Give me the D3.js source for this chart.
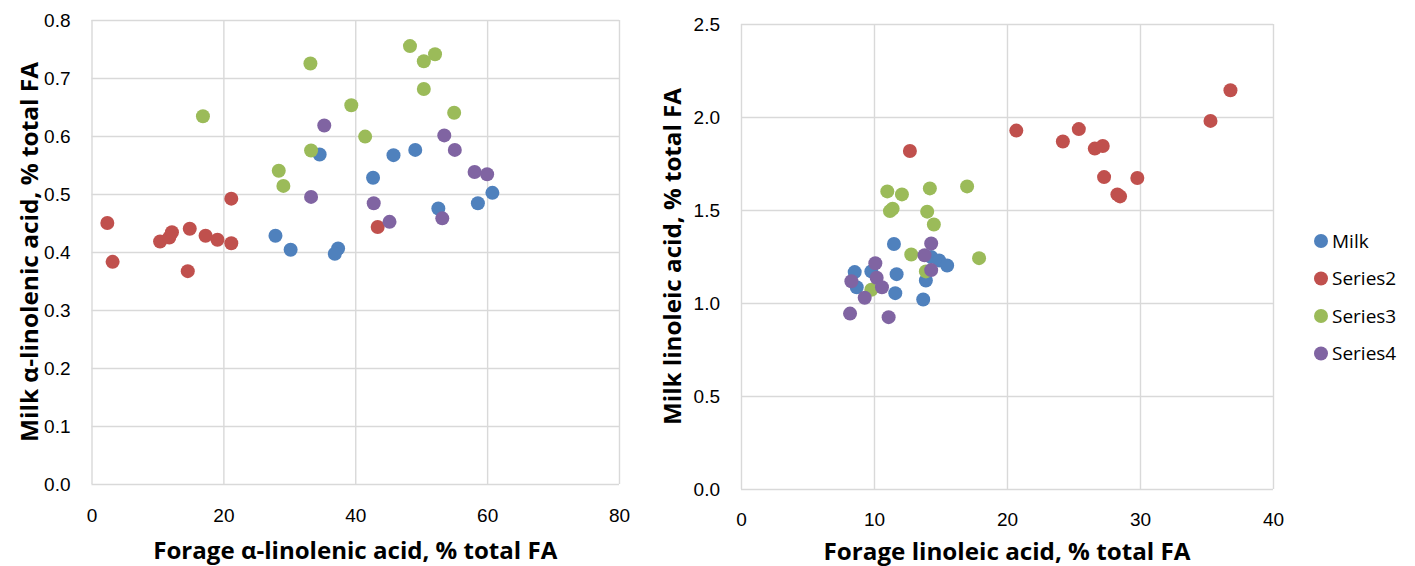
<!DOCTYPE html>
<html>
<head>
    <meta charset="utf-8">
    <title>Forage vs milk fatty acids</title>
    <script src="https://d3js.org/d3.v7.min.js"></script>
    <style>
      body { margin: 0; background: #fff; }
    </style>
</head>

<body>
    <div id="chart"></div>
<script type="text/javascript">
/* global d3 */

const seriesNames = ['Milk', 'Series2', 'Series3', 'Series4'];
const seriesColors = ['#4F81BD', '#C0504D', '#9BBB59', '#8064A2'];

// left panel: alpha-linolenic acid
const alaXTicks = [0, 20, 40, 60, 80];
const alaYTicks = [0, 0.1, 0.2, 0.3, 0.4, 0.5, 0.6, 0.7, 0.8];
const alaMilkX = [34.6, 45.8, 49.1, 42.7, 60.8, 58.6, 52.6, 27.9, 30.2, 37.4, 36.9];
const alaMilkY = [0.568, 0.567, 0.576, 0.528, 0.502, 0.484, 0.475, 0.428, 0.404, 0.406, 0.397];
const alaS2X = [2.4, 3.2, 10.4, 11.8, 12.2, 14.9, 14.6, 17.3, 19.1, 21.2, 21.2, 43.4];
const alaS2Y = [0.450, 0.383, 0.418, 0.425, 0.434, 0.440, 0.367, 0.428, 0.421, 0.415, 0.492, 0.443];
const alaS3X = [16.9, 33.2, 48.3, 52.1, 50.4, 50.4, 39.4, 55.0, 41.5, 33.3, 28.4, 29.1];
const alaS3Y = [0.634, 0.725, 0.755, 0.741, 0.729, 0.681, 0.653, 0.640, 0.599, 0.575, 0.540, 0.514];
const alaS4X = [35.3, 53.5, 55.1, 58.1, 60.0, 33.3, 42.8, 45.2, 53.2];
const alaS4Y = [0.618, 0.601, 0.576, 0.538, 0.534, 0.495, 0.484, 0.452, 0.458];

// right panel: linoleic acid
const laXTicks = [0, 10, 20, 30, 40];
const laYTicks = [0, 0.5, 1.0, 1.5, 2.0, 2.5];
const laMilkX = [11.5, 8.55, 9.8, 11.7, 8.7, 11.6, 13.7, 13.9, 14.3, 14.9, 15.5];
const laMilkY = [1.317, 1.166, 1.170, 1.155, 1.085, 1.053, 1.019, 1.121, 1.247, 1.229, 1.202];
const laS2X = [36.8, 35.3, 20.7, 25.4, 24.2, 26.6, 27.2, 27.3, 29.8, 28.3, 28.5, 12.7];
const laS2Y = [2.144, 1.979, 1.927, 1.935, 1.868, 1.830, 1.844, 1.677, 1.672, 1.584, 1.573, 1.817];
const laS3X = [11.0, 12.1, 14.2, 17.0, 11.4, 11.2, 14.0, 14.5, 12.8, 17.9, 13.9, 9.8];
const laS3Y = [1.600, 1.584, 1.616, 1.627, 1.507, 1.494, 1.491, 1.422, 1.261, 1.241, 1.170, 1.071];
const laS4X = [14.3, 13.8, 14.3, 10.1, 10.2, 10.6, 8.3, 9.3, 8.2, 11.1];
const laS4Y = [1.320, 1.257, 1.177, 1.214, 1.136, 1.085, 1.117, 1.028, 0.943, 0.924];

const width = 1415;
const height = 566;

const svg = d3.select('#chart')
  .append('svg')
    .attr('width', width)
    .attr('height', height)
    .style('font-family', '"Open Sans", sans-serif');

function drawPanel (p) {
  const x = d3.scaleLinear().domain([0, p.xTicks[p.xTicks.length - 1]]).range([p.left, p.right]);
  const y = d3.scaleLinear().domain([0, p.yTicks[p.yTicks.length - 1]]).range([p.bottom, p.top]);

  // x axis + vertical gridlines
  const gx = svg.append('g')
      .attr('transform', `translate(0, ${p.bottom})`)
    .call(d3.axisBottom(x)
      .tickValues(p.xTicks)
      .tickSize(-(p.bottom - p.top))
      .tickPadding(p.xPad)
      .tickFormat(d3.format('d')));

  // y axis + horizontal gridlines
  const gy = svg.append('g')
      .attr('transform', `translate(${p.left}, 0)`)
    .call(d3.axisLeft(y)
      .tickValues(p.yTicks)
      .tickSize(-(p.right - p.left))
      .tickPadding(21)
      .tickFormat(d3.format('.1f')));

  [gx, gy].forEach(g => {
    g.select('.domain').remove();
    g.selectAll('line').attr('stroke', '#d9d9d9').attr('stroke-width', 1.4);
    g.selectAll('text').attr('fill', '#000').style('font-size', '19px');
  });

  // points, one series after the other (last drawn on top)
  p.series.forEach((s, i) => {
    const pts = s[0].map((v, j) => ({ x: v, y: s[1][j] }));
    svg.append('g')
      .selectAll('circle')
      .data(pts)
      .enter()
      .append('circle')
        .attr('cx', d => x(d.x))
        .attr('cy', d => y(d.y))
        .attr('r', 7)
        .attr('fill', seriesColors[i]);
  });

  // x title
  const cx = (p.left + p.right) / 2;
  svg.append('text')
      .attr('x', cx - p.xTitleLen / 2)
      .attr('y', p.xTitleY)
      .attr('font-weight', 'bold')
      .style('font-size', '24px')
      .attr('textLength', p.xTitleLen)
      .attr('lengthAdjust', 'spacingAndGlyphs')
      .text(p.xTitle);

  // y title
  const cy = (p.top + p.bottom) / 2;
  svg.append('text')
      .attr('transform', `translate(${p.yTitleX}, ${cy}) rotate(-90)`)
      .attr('x', -p.yTitleLen / 2)
      .attr('y', 0)
      .attr('font-weight', 'bold')
      .style('font-size', '24px')
      .attr('textLength', p.yTitleLen)
      .attr('lengthAdjust', 'spacingAndGlyphs')
      .text(p.yTitle);
}

drawPanel({
  left: 91.5, right: 619, top: 20, bottom: 484,
  xTicks: alaXTicks, yTicks: alaYTicks, xPad: 25,
  series: [[alaMilkX, alaMilkY], [alaS2X, alaS2Y], [alaS3X, alaS3Y], [alaS4X, alaS4Y]],
  xTitle: 'Forage α-linolenic acid, % total FA', xTitleY: 559, xTitleLen: 404,
  yTitle: 'Milk α-linolenic acid, % total FA', yTitleX: 38, yTitleLen: 380
});

drawPanel({
  left: 741, right: 1273, top: 24, bottom: 489,
  xTicks: laXTicks, yTicks: laYTicks, xPad: 24,
  series: [[laMilkX, laMilkY], [laS2X, laS2Y], [laS3X, laS3Y], [laS4X, laS4Y]],
  xTitle: 'Forage linoleic acid, % total FA', xTitleY: 560, xTitleLen: 367,
  yTitle: 'Milk linoleic acid, % total FA', yTitleX: 681, yTitleLen: 337
});

// legend
const legend = svg.append('g')
    .attr('transform', 'translate(1321, 241)');

const item = legend.selectAll('g')
  .data(seriesNames)
  .enter()
  .append('g')
    .attr('transform', (d, i) => `translate(0, ${i * 37.5})`);

item.append('circle')
    .attr('r', 7)
    .attr('fill', (d, i) => seriesColors[i]);

item.append('text')
    .attr('x', 11)
    .attr('dy', '0.35em')
    .style('font-size', '19px')
    .text(d => d);
</script>
</body>

</html>
